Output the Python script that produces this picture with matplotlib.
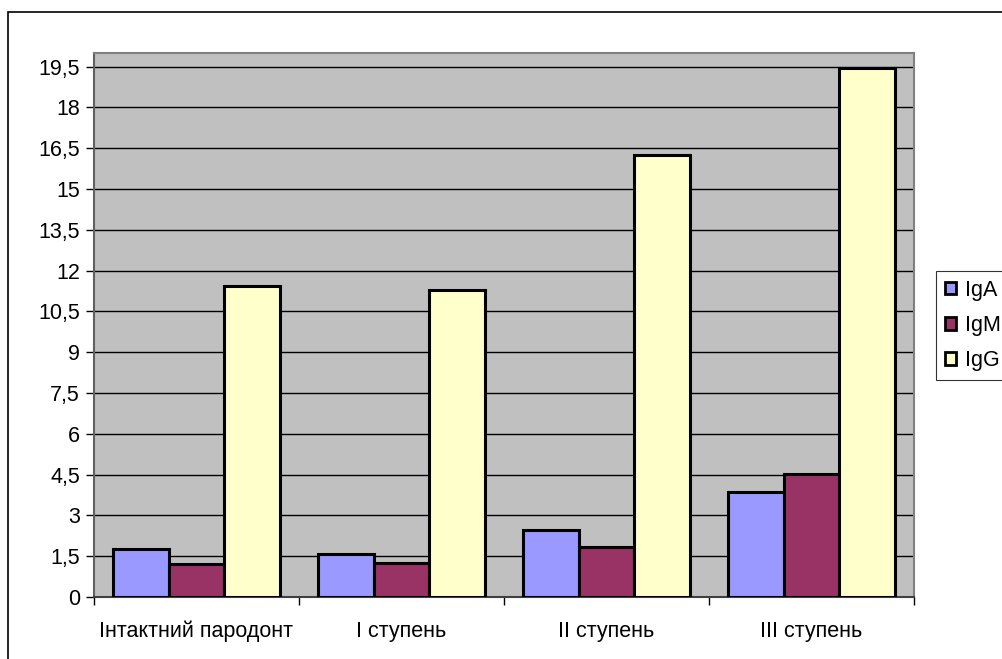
import matplotlib
matplotlib.use("Agg")
import matplotlib.pyplot as plt
import numpy as np
from matplotlib.patches import Rectangle, Patch

categories = ["Інтактний пародонт", "I ступень", "II ступень", "III ступень"]
series_names = ["IgA", "IgM", "IgG"]
IgA = [1.75, 1.59, 2.46, 3.87]
IgM = [1.21, 1.26, 1.84, 4.54]
IgG = [11.45, 11.30, 16.25, 19.46]
yticks = [0, 1.5, 3, 4.5, 6, 7.5, 9, 10.5, 12, 13.5, 15, 16.5, 18, 19.5]
ytick_labels = ["0", "1,5", "3", "4,5", "6", "7,5", "9", "10,5", "12", "13,5", "15", "16,5", "18", "19,5"]
colors = ["#9999FF", "#993366", "#FFFFCC"]

plt.rcParams['font.family'] = ['Liberation Sans', 'DejaVu Sans']
FS = 15.5

fig = plt.figure(figsize=(10.03, 6.59), dpi=100)
ax = fig.add_axes([94/1003, 1-597/659, (914-94)/1003, (597-53)/659])
ax.set_facecolor("#C0C0C0")

x = np.arange(len(categories))
w = 0.27
for i, (vals, c) in enumerate(zip([IgA, IgM, IgG], colors)):
    ax.bar(x + (i-1)*w, vals, width=w, color=c, edgecolor="black", linewidth=2.2,
           zorder=3, label=series_names[i])

ax.set_xlim(-0.5, 3.5)
ax.set_ylim(0, 20.0)
ax.set_yticks(yticks)
ax.set_yticklabels(ytick_labels, fontsize=FS)
ax.yaxis.grid(True, color="black", linewidth=1.0, zorder=1)
ax.set_axisbelow(True)

ax.set_xticks(x)
ax.set_xticklabels(categories, fontsize=FS)
ax.tick_params(axis='x', length=0, pad=17)
ax.set_xticks(np.arange(-0.5, 4.0, 1.0), minor=True)
ax.tick_params(axis='x', which='minor', length=6, direction='out', width=1, color='black')
ax.tick_params(axis='y', length=6, direction='out', width=1, pad=4)

for s in ["top", "right"]:
    ax.spines[s].set_color("#808080")
    ax.spines[s].set_linewidth(1.5)
ax.spines["left"].set_color("#606060")
ax.spines["left"].set_linewidth(1.5)
ax.spines["bottom"].set_color("#404040")
ax.spines["bottom"].set_linewidth(1.5)

# figure border
fig.patches.append(Rectangle((8/1003, -0.1), 1.2, (1-12/659)+0.1, transform=fig.transFigure,
                             fill=False, edgecolor="black", linewidth=1.2))

handles = [Patch(facecolor=c, edgecolor="black", linewidth=2, label=n) for c, n in zip(colors, series_names)]
leg = fig.legend(handles=handles, loc="upper left", bbox_to_anchor=(936/1003, 1-271/659),
                 fontsize=FS, frameon=True, fancybox=False, edgecolor="black",
                 handlelength=0.55, handleheight=0.55, handletextpad=0.4, borderpad=0.4,
                 labelspacing=0.66, borderaxespad=0)
leg.get_frame().set_linewidth(0.8)

fig.savefig("out.png", dpi=100)
